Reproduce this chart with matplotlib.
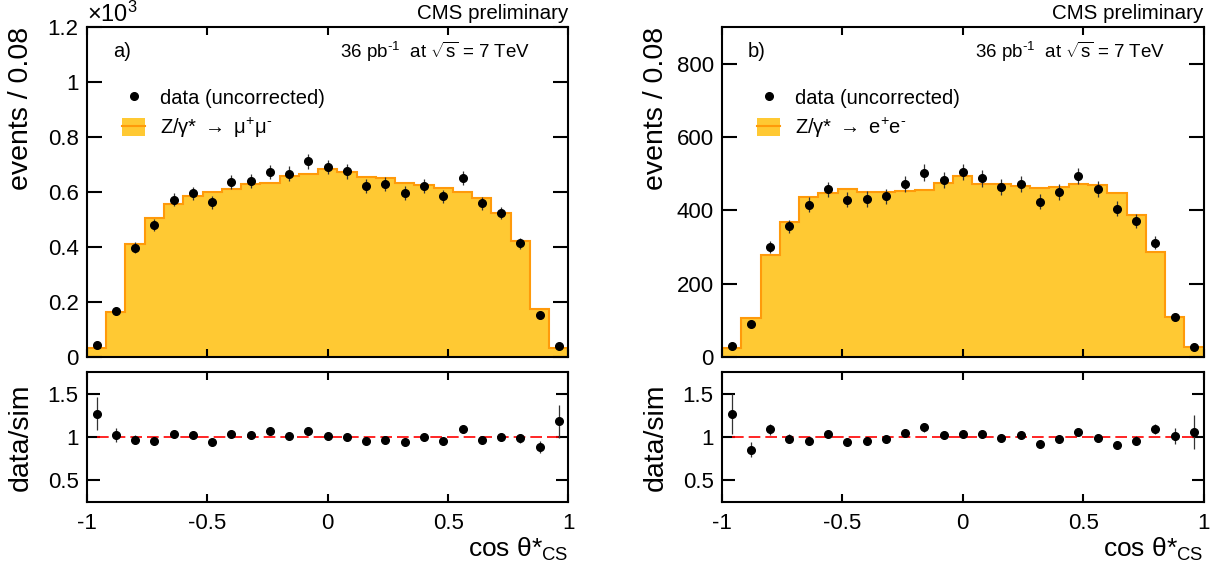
import matplotlib
matplotlib.use("Agg")
import matplotlib.pyplot as plt
import numpy as np
from matplotlib.lines import Line2D
from matplotlib.patches import Patch
from matplotlib.ticker import FixedLocator, FuncFormatter

plt.rcParams["font.family"] = ["Liberation Sans", "DejaVu Sans"]
plt.rcParams["mathtext.fontset"] = "custom"
plt.rcParams["mathtext.rm"] = "Liberation Sans"
plt.rcParams["mathtext.it"] = "Liberation Sans:italic"
plt.rcParams["mathtext.bf"] = "Liberation Sans:bold"
plt.rcParams["axes.unicode_minus"] = False

# cos theta*_CS binning: 25 bins of width 0.08
edges = np.linspace(-1.0, 1.0, 26)
centers = 0.5 * (edges[:-1] + edges[1:])

# muon channel (counts per bin)
mu_sim = [33, 164, 410, 505, 556, 587, 599, 611, 628, 632, 659, 667, 684,
          673, 655, 651, 633, 624, 615, 599, 577, 525, 423, 173, 34]
mu_data = [42, 167, 398, 479, 572, 595, 562, 635, 640, 672, 667, 712, 691,
           675, 622, 629, 596, 623, 584, 651, 559, 524, 413, 153, 40]
mu_err = [6.5, 12.9, 20.0, 21.9, 23.9, 24.4, 23.7, 25.2, 25.3, 25.9, 25.8, 26.7, 26.3,
          26.0, 24.9, 25.1, 24.4, 25.0, 24.2, 25.5, 23.6, 22.9, 20.3, 12.4, 6.3]
mu_ratio = [1.27, 1.02, 0.97, 0.95, 1.03, 1.02, 0.94, 1.04, 1.02, 1.065, 1.015, 1.07, 1.01,
            1.005, 0.955, 0.97, 0.946, 1.00, 0.95, 1.09, 0.97, 1.00, 0.985, 0.885, 1.18]
mu_ratio_err = [0.195, 0.079, 0.049, 0.043, 0.043, 0.042, 0.040, 0.041, 0.040, 0.040, 0.039, 0.040, 0.038,
                0.039, 0.038, 0.039, 0.040, 0.040, 0.041, 0.042, 0.041, 0.044, 0.049, 0.071, 0.187]

# electron channel (counts per bin)
ee_sim = [25, 106, 277, 368, 435, 446, 457, 451, 451, 453, 455, 474, 493,
          472, 471, 466, 462, 463, 472, 468, 446, 387, 286, 109, 27]
ee_data = [31, 90, 300, 356, 415, 457, 429, 431, 438, 473, 503, 483, 505,
           487, 463, 473, 423, 450, 494, 459, 404, 370, 311, 109, 28]
ee_err = [5.6, 9.5, 17.3, 18.9, 20.4, 21.4, 20.7, 20.8, 20.9, 21.7, 22.4, 22.0, 22.5,
          22.1, 21.5, 21.7, 20.6, 21.2, 22.2, 21.4, 20.1, 19.2, 17.6, 10.4, 5.3]
ee_ratio = [1.27, 0.854, 1.09, 0.977, 0.958, 1.035, 0.942, 0.958, 0.977, 1.046, 1.11, 1.023, 1.035,
            1.038, 0.988, 1.023, 0.92, 0.973, 1.054, 0.988, 0.908, 0.958, 1.092, 1.012, 1.058]
ee_ratio_err = [0.23, 0.09, 0.063, 0.052, 0.047, 0.048, 0.045, 0.046, 0.047, 0.048, 0.049, 0.047, 0.046,
                0.047, 0.046, 0.047, 0.045, 0.046, 0.047, 0.046, 0.045, 0.050, 0.063, 0.097, 0.20]

FILL = "#ffc933"
EDGE = "#ff9a0a"
TICK_FS = 16


def style_axis(ax, ylen):
    for sp in ax.spines.values():
        sp.set_linewidth(1.5)
    ax.tick_params(axis="both", which="major", direction="in", top=True, right=True,
                   width=1.5, labelsize=TICK_FS, pad=6)
    ax.tick_params(axis="y", length=ylen)
    ax.tick_params(axis="x", length=6)
    ax.xaxis.set_major_locator(FixedLocator([-1, -0.5, 0, 0.5, 1]))
    ax.xaxis.set_major_formatter(FuncFormatter(lambda v, p: "%g" % v))
    ax.yaxis.set_major_formatter(FuncFormatter(lambda v, p: "%g" % v))
    ax.set_xlim(-1, 1)


def draw_panel(fig, left, sim, data, err, ratio, ratio_err, scale, ymax, yticks,
               letter, proc_label):
    width = 0.3937
    ax = fig.add_axes([left, 0.3693, width, 0.5830])
    rax = fig.add_axes([left, 0.1131, width, 0.2297])

    sim = np.asarray(sim) / scale
    data = np.asarray(data) / scale
    err = np.asarray(err) / scale

    ax.stairs(sim, edges, fill=True, color=FILL, lw=0)
    ax.stairs(sim, edges, color=EDGE, lw=1.5, baseline=None)
    ax.errorbar(centers, data, yerr=err, fmt="o", color="black", ms=5.5,
                elinewidth=0.9, ecolor="#333333", capsize=0)
    style_axis(ax, 11)
    ax.set_ylim(0, ymax)
    ax.yaxis.set_major_locator(FixedLocator(yticks))
    ax.tick_params(axis="x", labelbottom=False)
    ax.set_ylabel("events / 0.08", fontsize=20.5, loc="top")
    ax.yaxis.set_label_coords(-0.11, 1.0)

    ax.text(1.0, 1.012, "CMS preliminary", transform=ax.transAxes, ha="right",
            va="bottom", fontsize=14.8)
    ax.text(0.054, 0.925, letter, transform=ax.transAxes, ha="left", va="center",
            fontsize=14.5)
    ax.text(0.92, 0.925, r"36 pb$^{\text{-1}}$  at $\sqrt{\mathrm{s}}$ = 7 TeV",
            transform=ax.transAxes, ha="right", va="center", fontsize=13.5)

    handles = [Line2D([], [], marker="o", ls="none", color="black", ms=5.5),
               (Patch(facecolor=FILL, edgecolor="none"), Line2D([], [], color=EDGE, lw=1.5))]
    ax.legend(handles, ["data (uncorrected)", proc_label], loc="upper left",
              bbox_to_anchor=(0.073, 0.815), frameon=False, fontsize=14.5,
              handlelength=1.15, handleheight=0.95, handletextpad=0.75,
              labelspacing=0.4, borderpad=0, borderaxespad=0)

    rax.errorbar(centers, ratio, yerr=ratio_err, fmt="o", color="black", ms=5.5,
                 elinewidth=0.9, ecolor="#333333", capsize=0, zorder=3)
    rax.plot([centers[0], centers[-1]], [1, 1], color="red", lw=1.2,
             dashes=(7, 3), zorder=2)
    style_axis(rax, 9)
    rax.set_ylim(0.25, 1.75)
    rax.yaxis.set_major_locator(FixedLocator([0.5, 1, 1.5]))
    rax.tick_params(axis="x", pad=8)
    rax.set_ylabel("data/sim", fontsize=20.5)
    rax.yaxis.set_label_coords(-0.11, 0.5)
    rax.set_xlabel(r"cos θ*$_{\mathrm{CS}}$", fontsize=19, loc="right", labelpad=1)
    return ax, rax


fig = plt.figure(figsize=(12.23, 5.66), dpi=100)

ax_mu, _ = draw_panel(fig, 0.0711, mu_sim, mu_data, mu_err, mu_ratio, mu_ratio_err,
                      1000.0, 1.2, [0, 0.2, 0.4, 0.6, 0.8, 1.0, 1.2], "a)",
                      r"Z/γ* $\rightarrow$ μ$^{+}$μ$^{\text{-}}$")
ax_mu.text(0.0, 1.0, r"$\times$10$^{3}$", transform=ax_mu.transAxes, ha="left",
           va="bottom", fontsize=17)

draw_panel(fig, 0.5904, ee_sim, ee_data, ee_err, ee_ratio, ee_ratio_err,
           1.0, 900, [0, 200, 400, 600, 800], "b)",
           r"Z/γ* $\rightarrow$ e$^{+}$e$^{\text{-}}$")

fig.savefig("out.png", dpi=100)
